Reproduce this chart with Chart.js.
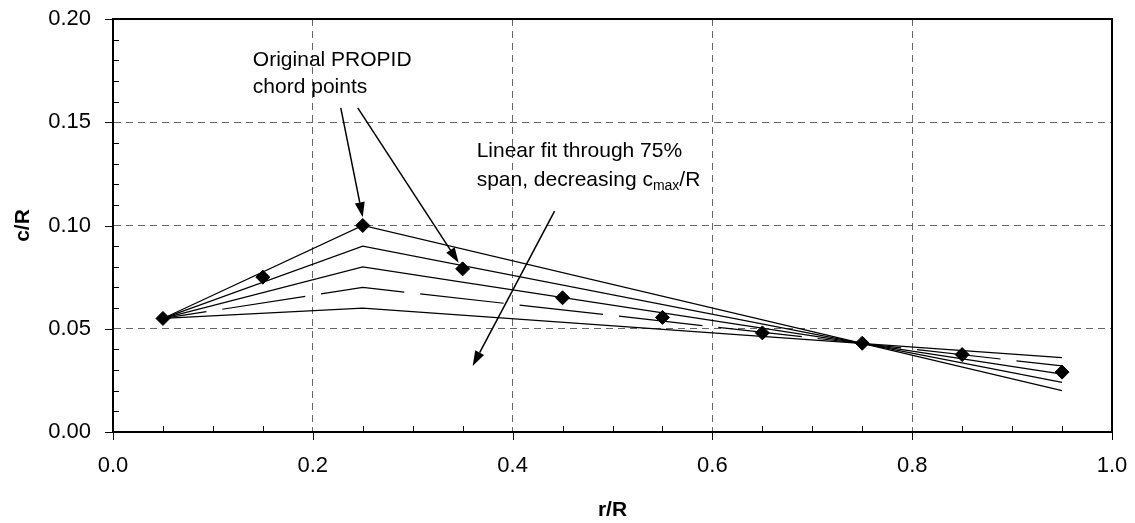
<!DOCTYPE html>
<html>
<head>
<meta charset="utf-8">
<script src="https://cdn.jsdelivr.net/npm/chart.js@4.4.1/dist/chart.umd.min.js"></script>
<style>
  html, body { margin: 0; padding: 0; background: #fff; }
  #wrap { width: 1135px; height: 523px; }
</style>
</head>
<body>
<div id="wrap"><canvas id="chord_chart"></canvas></div>
<script>
// original PROPID chord points
const rR = [0.05, 0.15, 0.25, 0.35, 0.45, 0.55, 0.65, 0.75, 0.85, 0.95];
const propidChord = [0.055, 0.075, 0.100, 0.079, 0.065, 0.0555, 0.048, 0.043, 0.0375, 0.029];

// linear fits through 75% span, decreasing cmax/R
const fitR = [0.05, 0.25, 0.95];
const fit100 = [0.055, 0.100, 0.020];
const fit090 = [0.055, 0.090, 0.024];
const fit080 = [0.055, 0.080, 0.028];
const fit070 = [0.055, 0.070, 0.032];
const fit060 = [0.055, 0.060, 0.036];

const xTickValues = [0, 0.2, 0.4, 0.6, 0.8, 1.0];
const yTickValues = [0, 0.05, 0.10, 0.15, 0.20];
const xMinorStep = 0.05;
const yMinorStep = 0.01;

// annotation anchors, in data units
const noteChord = { x: 0.140, y: [0.177, 0.164], lines: ['Original PROPID', 'chord points'] };
const noteFit = { x: 0.364, y: [0.133, 0.119] };
const arrows = [
  { from: [0.228, 0.157], to: [0.250, 0.104] },
  { from: [0.245, 0.157], to: [0.346, 0.082] },
  { from: [0.442, 0.107], to: [0.360, 0.032] }
];

const FONT = '"Liberation Sans", Arial, sans-serif';

const toXY = (xs, ys) => xs.map((x, i) => ({ x: x, y: ys[i] }));

function fitLine(values, dash) {
  return {
    data: toXY(fitR, values),
    borderColor: '#000',
    borderWidth: 1.2,
    borderDash: dash || [],
    borderDashOffset: 40,
    pointRadius: 0,
    showLine: true,
    fill: false,
    tension: 0,
    order: 1
  };
}

const frame = {
  id: 'frame',
  afterDraw(chart) {
    const ctx = chart.ctx;
    const a = chart.chartArea;
    const xs = chart.scales.x;
    const ys = chart.scales.y;

    ctx.save();
    ctx.strokeStyle = '#000';
    ctx.lineWidth = 2;
    ctx.strokeRect(a.left, a.top, a.right - a.left, a.bottom - a.top);

    // ticks: major outward, minor inward
    ctx.lineWidth = 1;
    for (let i = 0; i <= Math.round(1 / xMinorStep); i++) {
      const v = i * xMinorStep;
      const px = Math.round(xs.getPixelForValue(v)) + 0.5;
      const major = xTickValues.some(t => Math.abs(t - v) < 1e-9);
      ctx.beginPath();
      ctx.moveTo(px, a.bottom);
      ctx.lineTo(px, major ? a.bottom + 8 : a.bottom - 6);
      ctx.stroke();
    }
    for (let i = 0; i <= Math.round(0.2 / yMinorStep); i++) {
      const v = i * yMinorStep;
      const py = Math.round(ys.getPixelForValue(v)) + 0.5;
      const major = yTickValues.some(t => Math.abs(t - v) < 1e-9);
      ctx.beginPath();
      ctx.moveTo(a.left, py);
      ctx.lineTo(major ? a.left - 8 : a.left + 6, py);
      ctx.stroke();
    }

    // arrows
    ctx.fillStyle = '#000';
    for (const ar of arrows) {
      const x1 = xs.getPixelForValue(ar.from[0]), y1 = ys.getPixelForValue(ar.from[1]);
      const x2 = xs.getPixelForValue(ar.to[0]), y2 = ys.getPixelForValue(ar.to[1]);
      const ang = Math.atan2(y2 - y1, x2 - x1);
      const len = 15, half = 5;
      const bx = x2 - len * Math.cos(ang), by = y2 - len * Math.sin(ang);
      ctx.lineWidth = 1.5;
      ctx.beginPath();
      ctx.moveTo(x1, y1);
      ctx.lineTo(bx, by);
      ctx.stroke();
      ctx.beginPath();
      ctx.moveTo(x2, y2);
      ctx.lineTo(bx + half * Math.sin(ang), by - half * Math.cos(ang));
      ctx.lineTo(bx - half * Math.sin(ang), by + half * Math.cos(ang));
      ctx.closePath();
      ctx.fill();
    }

    // notes
    ctx.textAlign = 'left';
    ctx.textBaseline = 'alphabetic';
    ctx.font = '21px ' + FONT;
    const cx = xs.getPixelForValue(noteChord.x);
    noteChord.lines.forEach((t, i) => ctx.fillText(t, cx, ys.getPixelForValue(noteChord.y[i])));

    const fx = xs.getPixelForValue(noteFit.x);
    ctx.fillText('Linear fit through 75%', fx, ys.getPixelForValue(noteFit.y[0]));
    const by2 = ys.getPixelForValue(noteFit.y[1]);
    let x = fx;
    const part1 = 'span, decreasing c';
    ctx.fillText(part1, x, by2);
    x += ctx.measureText(part1).width;
    ctx.font = '14px ' + FONT;
    ctx.fillText('max', x, by2 + 4);
    x += ctx.measureText('max').width;
    ctx.font = '21px ' + FONT;
    ctx.fillText('/R', x, by2);
    ctx.restore();
  }
};

const ctx = document.getElementById('chord_chart').getContext('2d');
const chordChart = new Chart(ctx, {
  type: 'scatter',
  data: {
    datasets: [
      {
        data: toXY(rR, propidChord),
        showLine: false,
        pointStyle: 'rectRot',
        pointRadius: 7,
        pointHoverRadius: 7,
        pointBackgroundColor: '#000',
        pointBorderColor: '#000',
        pointBorderWidth: 1,
        order: 0
      },
      fitLine(fit100),
      fitLine(fit090),
      fitLine(fit080),
      fitLine(fit070, [84, 16]),
      fitLine(fit060)
    ]
  },
  options: {
    responsive: true,
    maintainAspectRatio: false,
    animation: false,
    events: [],
    layout: { padding: { left: 0, right: 23, top: 19, bottom: 0 } },
    plugins: { legend: { display: false }, tooltip: { enabled: false } },
    scales: {
      x: {
        type: 'linear',
        min: 0,
        max: 1,
        afterBuildTicks: s => { s.ticks = xTickValues.map(v => ({ value: v })); },
        afterFit: s => { s.height = 91; s.paddingLeft = 0; s.paddingRight = 0; },
        ticks: {
          color: '#000',
          font: { family: FONT, size: 22 },
          padding: 21,
          maxRotation: 0,
          callback: v => v.toFixed(1)
        },
        grid: {
          drawTicks: false,
          lineWidth: 1,
          color: c => (c.tick && (c.tick.value <= 0 || c.tick.value >= 1)) ? 'rgba(0,0,0,0)' : '#666666'
        },
        border: { display: true, color: '#000', width: 2, dash: [7, 5] },
        title: {
          display: true,
          text: 'r/R',
          color: '#000',
          font: { family: FONT, size: 21, weight: 'bold' },
          padding: { top: 0, bottom: 0 }
        }
      },
      y: {
        type: 'linear',
        min: 0,
        max: 0.2,
        afterBuildTicks: s => { s.ticks = yTickValues.map(v => ({ value: v })); },
        afterFit: s => { s.width = 113; s.paddingTop = 0; s.paddingBottom = 0; },
        ticks: {
          color: '#000',
          font: { family: FONT, size: 22 },
          padding: 22,
          callback: v => v.toFixed(2)
        },
        grid: {
          drawTicks: false,
          lineWidth: 1,
          color: c => (c.tick && (c.tick.value <= 0 || c.tick.value >= 0.2 - 1e-9)) ? 'rgba(0,0,0,0)' : '#666666'
        },
        border: { display: true, color: '#000', width: 2, dash: [7, 5] },
        title: {
          display: true,
          text: 'c/R',
          color: '#000',
          font: { family: FONT, size: 21, weight: 'bold' },
          padding: { top: 11, bottom: 0 }
        }
      }
    }
  },
  plugins: [frame]
});
</script>
</body>
</html>
